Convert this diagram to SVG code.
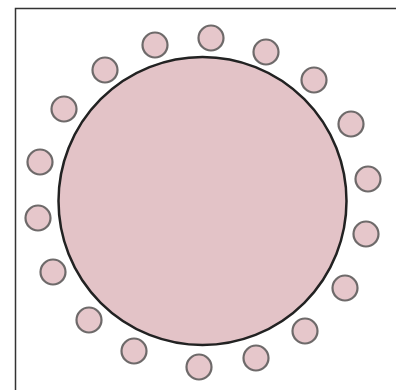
<svg xmlns="http://www.w3.org/2000/svg" width="396" height="390" viewBox="0 0 396 390">
<style>
.seat{fill:#e6c7cb;stroke:#6e6a6a;stroke-width:2.2}
</style>
<rect width="396" height="390" fill="#ffffff"/>
<rect x="15.5" y="8.5" width="390" height="390" fill="none" stroke="#333" stroke-width="1.5"/>
<g id="table"><circle cx="202.5" cy="201" r="144" fill="#e3c3c7" stroke="#222" stroke-width="2.5"/></g>
<g id="seat1"><circle class="seat" cx="211" cy="38" r="12.5"/></g>
<g id="seat2"><circle class="seat" cx="266" cy="52" r="12.5"/></g>
<g id="seat3"><circle class="seat" cx="314" cy="80" r="12.5"/></g>
<g id="seat4"><circle class="seat" cx="351" cy="124" r="12.5"/></g>
<g id="seat5"><circle class="seat" cx="368" cy="179" r="12.5"/></g>
<g id="seat6"><circle class="seat" cx="366" cy="234" r="12.5"/></g>
<g id="seat7"><circle class="seat" cx="345" cy="288" r="12.5"/></g>
<g id="seat8"><circle class="seat" cx="305" cy="331" r="12.5"/></g>
<g id="seat9"><circle class="seat" cx="256" cy="358" r="12.5"/></g>
<g id="seat10"><circle class="seat" cx="199" cy="367" r="12.5"/></g>
<g id="seat11"><circle class="seat" cx="134" cy="351" r="12.5"/></g>
<g id="seat12"><circle class="seat" cx="89" cy="320" r="12.5"/></g>
<g id="seat13"><circle class="seat" cx="53" cy="272" r="12.5"/></g>
<g id="seat14"><circle class="seat" cx="38" cy="218" r="12.5"/></g>
<g id="seat15"><circle class="seat" cx="40" cy="162" r="12.5"/></g>
<g id="seat16"><circle class="seat" cx="64" cy="109" r="12.5"/></g>
<g id="seat17"><circle class="seat" cx="105" cy="70" r="12.5"/></g>
<g id="seat18"><circle class="seat" cx="155" cy="45" r="12.5"/></g>
<g id="connectors"></g>
</svg>
